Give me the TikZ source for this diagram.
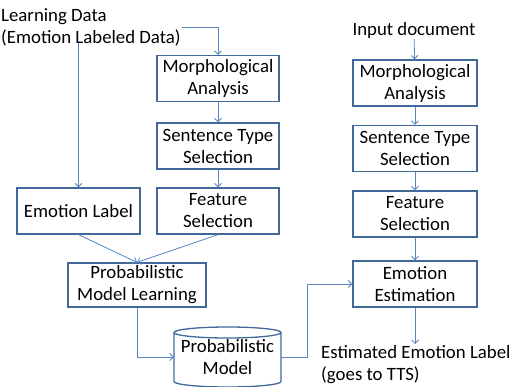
\documentclass[tikz,border=0pt]{standalone}
\usepackage{fontspec}
\setmainfont{Carlito}
\usepackage{tikz}
\usetikzlibrary{arrows.meta,positioning,calc}
\definecolor{boxblue}{HTML}{41699A}
\definecolor{lineblue}{HTML}{5585C5}
\begin{document}
\begin{tikzpicture}[x=1pt,y=-1pt,
			txt/.style={font=\fontsize{18.8}{22}\selectfont, align=center, inner sep=1pt},
			stage/.style={txt, draw=boxblue, line width=1.3pt, minimum height=46pt},
			arr/.style={draw=lineblue, line width=0.8pt, -{Straight Barb[length=3.5pt,width=7pt]}}
			]
			\useasboundingbox (0,0) rectangle (519,387);
			% learning side
			\node[txt, align=left, anchor=west] (ld) at (0,27) {Learning Data\\(Emotion Labeled Data)};
			\node[stage, minimum width=122pt] (ma1) at (218,78.5) {Morphological\\Analysis};
			\node[stage, minimum width=122pt] (st1) at (218,146) {Sentence Type\\Selection};
			\node[stage, minimum width=122pt] (fs1) at (218,211) {Feature\\Selection};
			\node[stage, minimum width=123pt] (el) at (78.5,211) {Emotion Label};
			\node[stage, minimum width=138pt, minimum height=44pt] (pml) at (137,285) {Probabilistic\\Model Learning};
			\node[txt, minimum width=107pt, minimum height=60pt] (pm) at (227.5,357) {Probabilistic\\Model};
			\draw[draw=boxblue, line width=1.3pt]
						(227.5,332.5) ellipse [x radius=53.5pt, y radius=5.5pt]
						(174,332.5) -- (174,381.5) arc [start angle=180, end angle=360, x radius=53.5pt, y radius=5.5pt] -- (281,332.5);
			% estimation side
			\node[txt] (id) at (414,30) {Input document};
			\node[stage, minimum width=124pt] (ma2) at (415,83) {Morphological\\Analysis};
			\node[stage, minimum width=124pt] (st2) at (415,148.5) {Sentence Type\\Selection};
			\node[stage, minimum width=124pt] (fs2) at (415,214) {Feature\\Selection};
			\node[stage, minimum width=124pt] (ee) at (415,284) {Emotion\\Estimation};
			\node[txt, align=left, anchor=north west] (eel) at (320,344) {Estimated Emotion Label\\(goes to TTS)};

			\draw[arr] (ld.east) -| (ma1.north);
			\draw[arr] ([yshift=4pt]ld.south -| el.north) -- (el.north);
			\draw[arr] (ma1) -- (st1);
			\draw[arr] (st1) -- (fs1);
			\draw[arr] (el.south) -- (pml.north);
			\draw[arr] (fs1.south) -- (pml.north);
			\draw[arr] (pml.south) |- (pm.west);
			\draw[arr] (pm.east) -- ++(26,0) |- (ee.west);
			\draw[arr] (id) -- (ma2);
			\draw[arr] (ma2) -- (st2);
			\draw[arr] (st2) -- (fs2);
			\draw[arr] (fs2) -- (ee);
			\draw[arr] (ee.south) -- (ee.south |- eel.north);
		\end{tikzpicture}
\end{document}
